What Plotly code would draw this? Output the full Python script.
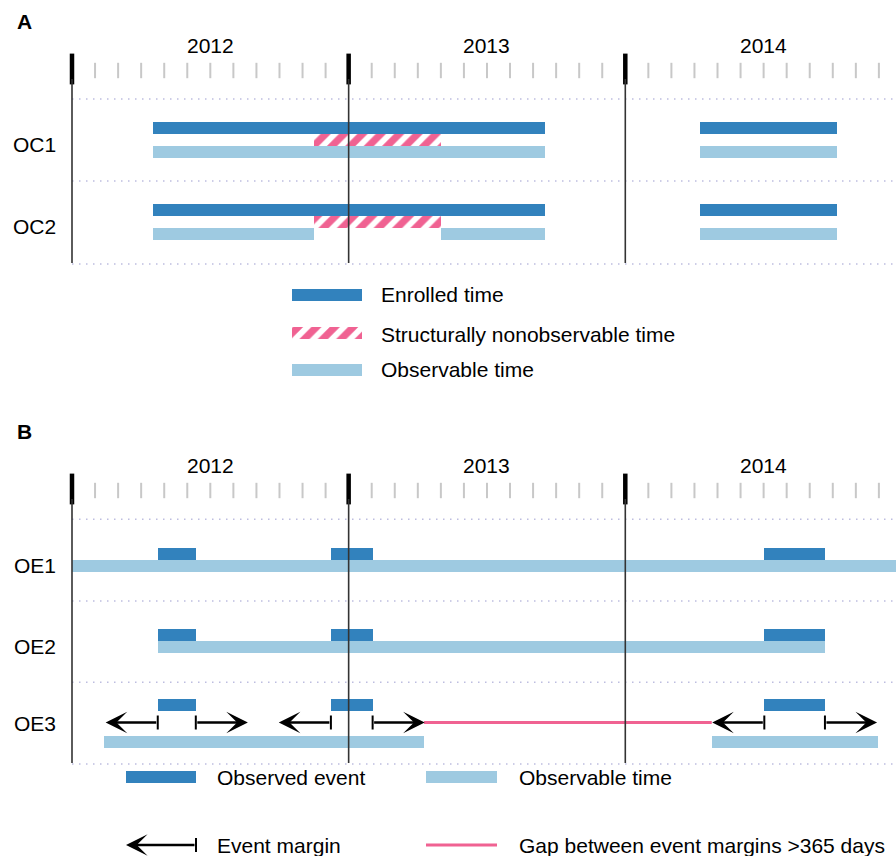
import plotly.graph_objects as go

# ---------------- data (x in months since 1 Jan 2012) ----------------
YEAR_LABELS = ["2012", "2013", "2014"]
YEAR_STARTS = [0, 12, 24]
YEAR_MIDS = [6, 18, 30]
MONTH_TICKS = [m for m in range(1, 36) if m % 12 != 0]

OC_ROWS = ["OC1", "OC2"]
OC_ENROLLED = [
    [(3.5, 20.5), (27.25, 33.17)],
    [(3.5, 20.5), (27.25, 33.17)],
]
OC_NONOBSERVABLE = [
    [(10.5, 16.0)],
    [(10.5, 16.0)],
]
OC_OBSERVABLE = [
    [(3.5, 20.5), (27.25, 33.17)],
    [(3.5, 10.5), (16.0, 20.5), (27.25, 33.17)],
]

OE_ROWS = ["OE1", "OE2", "OE3"]
OE_EVENTS = [(3.72, 5.37), (11.23, 13.04), (30.03, 32.66)]
OE_OBSERVABLE = [
    [(0.0, 36.0)],
    [(3.72, 32.66)],
    [(1.39, 15.27), (27.75, 34.95)],
]
EVENT_MARGIN = 2.26          # months (~69 days)
OE3_GAP = [(15.27, 27.75)]   # gap between event margins > 365 days

LEGEND_A = ["Enrolled time", "Structurally nonobservable time", "Observable time"]
LEGEND_B = ["Observed event", "Observable time", "Event margin",
            "Gap between event margins >365 days"]

# ---------------- style / layout constants ----------------
W, H = 896, 856
MONTH_PX = 23.054
X0_PX = 72.0
DARK = "#3282bd"
LIGHT = "#9ecae1"
PINK = "#f06292"
GRID = "#bdbde0"
FONT = "Liberation Sans, Arial, Helvetica, sans-serif"
FS = 21
BAR_H = 12


def px2m(px):
    return (px - X0_PX) / MONTH_PX


fig = go.Figure()
shapes = []
annotations = []


def add_bars(intervals, y, color, pattern=None):
    if not intervals:
        return
    marker = dict(color=color, line=dict(width=0))
    if pattern:
        marker["pattern"] = pattern
    fig.add_trace(go.Bar(
        orientation="h",
        base=[s for s, e in intervals],
        x=[e - s for s, e in intervals],
        y=[y] * len(intervals),
        width=BAR_H,
        marker=marker,
        showlegend=False,
        hoverinfo="skip",
    ))


HATCH = dict(shape="/", fgcolor=PINK, bgcolor="white", size=13,
             solidity=0.55, fillmode="replace")


def text(x_px, y, s, size=FS, bold=False, xanchor="left"):
    annotations.append(dict(
        x=x_px / W, xref="paper", y=y, yref="y", text=("<b>%s</b>" % s) if bold else s,
        showarrow=False, xanchor=xanchor, yanchor="middle",
        font=dict(family=FONT, size=size, color="black")))


def timeline_frame(off, separators):
    # year labels
    for lab, mid in zip(YEAR_LABELS, YEAR_MIDS):
        annotations.append(dict(x=mid, xref="x", y=off + 45.5, yref="y", text=lab,
                                showarrow=False, xanchor="center", yanchor="middle",
                                font=dict(family=FONT, size=FS, color="black")))
    # month ticks
    fig.add_trace(go.Scatter(
        x=MONTH_TICKS, y=[off + 70.5] * len(MONTH_TICKS), mode="markers",
        marker=dict(symbol="line-ns", size=11, line=dict(width=2, color="#c8c8c8")),
        showlegend=False, hoverinfo="skip"))
    # year ticks
    fig.add_trace(go.Scatter(
        x=YEAR_STARTS, y=[off + 69] * len(YEAR_STARTS), mode="markers",
        marker=dict(symbol="line-ns", size=22, line=dict(width=4.5, color="black")),
        showlegend=False, hoverinfo="skip"))
    # dotted separators
    for ys in separators:
        shapes.append(dict(type="line", xref="x", yref="y", x0=0, x1=px2m(W), y0=ys, y1=ys,
                           line=dict(color=GRID, width=1.5, dash="1.5px,5.5px"), layer="below"))
    # vertical year lines
    for xs in YEAR_STARTS:
        shapes.append(dict(type="line", xref="x", yref="y", x0=xs, x1=xs,
                           y0=off + 79, y1=separators[-1] - 1,
                           line=dict(color="#333333", width=1.6), layer="above"))


# ================= Panel A =================
text(15, 21, "A", size=FS, bold=True)
A_SEPS = [99, 181, 264]
A_CENTERS = [140, 222.5]
for i, name in enumerate(OC_ROWS):
    c = A_CENTERS[i]
    add_bars(OC_ENROLLED[i], c - 12.5, DARK)
    add_bars(OC_NONOBSERVABLE[i], c - 0.5, "white", HATCH)
    add_bars(OC_OBSERVABLE[i], c + 11.5, LIGHT)
    text(58, c + 4, name, xanchor="right")
timeline_frame(0, A_SEPS)

# legend A
LEG_A_Y = [295, 333, 370]
add_bars([(px2m(292), px2m(362))], LEG_A_Y[0], DARK)
add_bars([(px2m(292), px2m(362))], LEG_A_Y[1], "white", HATCH)
add_bars([(px2m(292), px2m(362))], LEG_A_Y[2], LIGHT)
for lab, yy in zip(LEGEND_A, [294.5, 334.5, 369.5]):
    text(379, yy, lab)

# ================= Panel B =================
OFF_B = 420
text(15, 431, "B", size=FS, bold=True)
B_SEPS = [519.3, 601, 682.3, 764]
B_CENTERS = [560, 641.5, 723]
EV_DY = [-6, -6.5, -18]
OBS_DY = [6, 5.5, 19]
LAB_DY = [5.5, 5, 0]

for i, name in enumerate(OE_ROWS):
    c = B_CENTERS[i]
    add_bars(OE_OBSERVABLE[i], c + OBS_DY[i], LIGHT)
    add_bars(OE_EVENTS, c + EV_DY[i], DARK)
    text(58, c + LAB_DY[i], name, xanchor="right")

# OE3 margins and gap
arrow_y = B_CENTERS[2] - 0.5
for g0, g1 in OE3_GAP:
    fig.add_trace(go.Scatter(x=[g0, g1], y=[arrow_y, arrow_y], mode="lines",
                             line=dict(color=PINK, width=3),
                             showlegend=False, hoverinfo="skip"))


def margin_arrow(tail, tip, yy):
    annotations.append(dict(x=tip, y=yy, ax=tail, ay=yy, xref="x", yref="y",
                            axref="x", ayref="y", text="", showarrow=True,
                            arrowhead=3, arrowsize=1.5, arrowwidth=2.4,
                            arrowcolor="black", standoff=0, startstandoff=0))


caps = []
for s, e in OE_EVENTS:
    margin_arrow(s, s - EVENT_MARGIN, arrow_y)
    margin_arrow(e, e + EVENT_MARGIN, arrow_y)
    caps += [s, e]
fig.add_trace(go.Scatter(x=caps, y=[arrow_y] * len(caps), mode="markers",
                         marker=dict(symbol="line-ns", size=10, line=dict(width=2, color="black")),
                         showlegend=False, hoverinfo="skip"))

timeline_frame(OFF_B, B_SEPS)

# legend B
LB1, LB2 = 777, 845
add_bars([(px2m(126), px2m(196))], LB1, DARK)
add_bars([(px2m(426), px2m(497))], LB1, LIGHT)
margin_arrow(px2m(196), px2m(126), LB2)
fig.add_trace(go.Scatter(x=[px2m(196)], y=[LB2], mode="markers",
                         marker=dict(symbol="line-ns", size=10, line=dict(width=2, color="black")),
                         showlegend=False, hoverinfo="skip"))
fig.add_trace(go.Scatter(x=[px2m(426), px2m(497)], y=[LB2, LB2], mode="lines",
                         line=dict(color=PINK, width=3), showlegend=False, hoverinfo="skip"))
text(215, LB1, LEGEND_B[0])
text(517, LB1, LEGEND_B[1])
text(215, LB2, LEGEND_B[2])
text(517, LB2, LEGEND_B[3])

fig.update_layout(
    width=W, height=H,
    margin=dict(l=0, r=0, t=0, b=0),
    paper_bgcolor="white", plot_bgcolor="white",
    barmode="overlay", bargap=0,
    showlegend=False,
    xaxis=dict(range=[px2m(0), px2m(W)], visible=False, fixedrange=True),
    yaxis=dict(range=[H, 0], visible=False, fixedrange=True),
    shapes=shapes, annotations=annotations,
    font=dict(family=FONT),
)

fig.write_html("out.html", config={"displayModeBar": False},
               post_script="document.body.style.margin='0';document.body.style.overflow='hidden';")
